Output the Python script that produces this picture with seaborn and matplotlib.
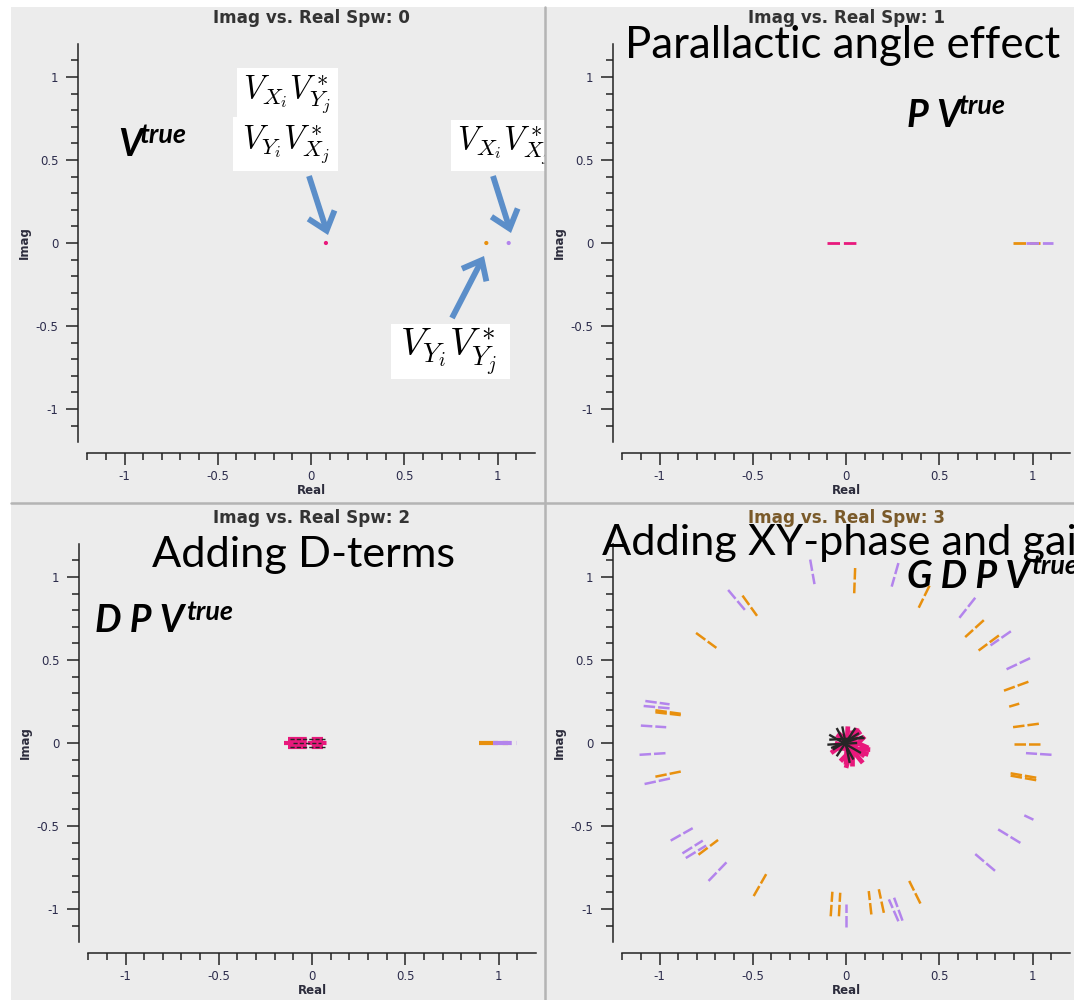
import matplotlib
matplotlib.use('Agg')
import numpy as np
import pandas as pd
import matplotlib.pyplot as plt
import seaborn as sns
from matplotlib.patches import Rectangle, FancyArrowPatch
from matplotlib.lines import Line2D
from matplotlib.ticker import FixedLocator

# ---------------- data ----------------
pal = {'XY': '#e8197c', 'YX': '#262626', 'YY': '#e8900e', 'XX': '#b384ec'}

# Spw 0 : V_true -> single visibilities
spw0_real = [0.08, 0.94, 1.06]
spw0_imag = [0.0, 0.0, 0.0]
spw0_pol = ['XY', 'YY', 'XX']

# Spw 1 : P V_true -> short tracks along the real axis
spw1_x0 = [-0.10, 0.895, 0.965]
spw1_y0 = [0.0, 0.0, 0.0]
spw1_x1 = [0.06, 1.04, 1.11]
spw1_y1 = [0.0, 0.0, 0.0]
spw1_pol = ['XY', 'YY', 'XX']

# Spw 2 : D P V_true
spw2_x0 = [-0.13, -0.13, -0.13, -0.15, 0.895, 0.97]
spw2_y0 = [-0.022, 0.0, 0.022, 0.0, 0.0, 0.0]
spw2_x1 = [0.06, 0.06, 0.06, 0.09, 1.05, 1.10]
spw2_y1 = [-0.022, 0.0, 0.022, 0.0, 0.0, 0.0]
spw2_pol = ['XY', 'XY', 'XY', 'XY', 'YY', 'XX']
spw2b_x0 = [-0.12, -0.12, -0.10]
spw2b_y0 = [0.022, -0.022, 0.0]
spw2b_x1 = [0.07, 0.07, 0.05]
spw2b_y1 = [0.022, -0.022, 0.0]
spw2b_pol = ['YX', 'YX', 'YX']

# Spw 3 : G D P V_true -> parallel hands on a ring
ring_x0 = [-0.192, 0.049, 0.281, 0.448, 0.693, 0.739, 0.820, 0.884, 0.987, 0.978,
           0.929, 1.034, 1.042, 1.102, 1.020, 1.020, 1.005, 0.935, 0.799, 0.399,
           0.303, 0.281, 0.203, 0.136, 0.000, -0.038, -0.082, -0.495, -0.737, -0.791,
           -0.877, -0.859, -0.940, -1.080, -1.022, -1.107, -1.100, -1.022, -1.022, -1.085,
           -1.076, -0.804, -0.632, -0.555]
ring_y0 = [1.105, 1.054, 1.084, 0.948, 0.875, 0.740, 0.648, 0.673, 0.511, 0.369,
           0.237, 0.116, -0.006, -0.071, -0.209, -0.224, -0.462, -0.602, -0.770, -0.967,
           -1.070, -1.074, -1.023, -1.033, -1.110, -1.044, -1.044, -0.922, -0.831, -0.673,
           -0.665, -0.693, -0.588, -0.247, -0.203, -0.071, 0.105, 0.197, 0.185, 0.223,
           0.253, 0.663, 0.922, 0.888]
ring_x1 = [-0.169, 0.044, 0.245, 0.390, 0.608, 0.639, 0.711, 0.775, 0.857, 0.844,
           0.875, 0.893, 0.902, 0.965, 0.880, 0.880, 0.956, 0.811, 0.693, 0.339,
           0.258, 0.230, 0.176, 0.122, 0.000, -0.031, -0.073, -0.428, -0.641, -0.686,
           -0.768, -0.750, -0.822, -0.940, -0.886, -0.964, -0.964, -0.886, -0.886, -0.946,
           -0.946, -0.695, -0.541, -0.477]
ring_y1 = [0.957, 0.902, 0.942, 0.815, 0.754, 0.638, 0.557, 0.588, 0.442, 0.314,
           0.219, 0.095, -0.006, -0.061, -0.182, -0.196, -0.436, -0.517, -0.669, -0.831,
           -0.932, -0.942, -0.881, -0.892, -0.969, -0.902, -0.896, -0.790, -0.719, -0.584,
           -0.588, -0.618, -0.513, -0.213, -0.172, -0.061, 0.095, 0.176, 0.168, 0.209,
           0.233, 0.573, 0.800, 0.766]
ring_pol = ['XX', 'YY', 'XX', 'YY', 'XX', 'YY', 'YY', 'XX', 'XX', 'YY',
            'YY', 'YY', 'YY', 'XX', 'YY', 'YY', 'XX', 'XX', 'XX', 'YY',
            'XX', 'XX', 'YY', 'YY', 'XX', 'YY', 'YY', 'YY', 'XX', 'YY',
            'XX', 'XX', 'XX', 'XX', 'YY', 'XX', 'XX', 'YY', 'YY', 'XX',
            'XX', 'YY', 'XX', 'YY']

# Spw 3 : cross hands scattered around the origin (pink = XY, black = YX)
star_x0 = [-0.05, 0.00, -0.07, -0.03, 0.03, -0.06, 0.09, -0.04, 0.01, -0.08,
           -0.09, -0.08, -0.05, -0.02, -0.09, 0.05, -0.10, 0.07]
star_y0 = [0.05, -0.15, -0.03, -0.11, 0.08, 0.00, -0.12, 0.05, 0.10, -0.06,
           0.02, -0.03, 0.09, 0.10, 0.05, 0.09, -0.01, 0.06]
star_x1 = [0.10, 0.06, 0.13, 0.10, 0.03, 0.12, -0.04, 0.12, 0.00, 0.08,
           0.10, 0.09, 0.04, 0.02, 0.08, -0.05, 0.06, -0.07]
star_y1 = [-0.08, 0.09, -0.04, 0.04, -0.14, -0.07, 0.06, -0.03, -0.13, 0.07,
           0.03, 0.04, -0.10, -0.12, -0.06, -0.08, 0.00, -0.04]
star_pol = ['XY'] * 10 + ['YX'] * 8

major_ticks = [-1, -0.5, 0, 0.5, 1]
major_labels = ['-1', '-0.5', '0', '0.5', '1']
x_minor = [-1.2, -1.1, -0.9, -0.8, -0.7, -0.6, -0.4, -0.3, -0.2, -0.1,
           0.1, 0.2, 0.3, 0.4, 0.6, 0.7, 0.8, 0.9, 1.1]
y_minor = [-1.1, -0.9, -0.8, -0.7, -0.6, -0.4, -0.3, -0.2, -0.1,
           0.1, 0.2, 0.3, 0.4, 0.6, 0.7, 0.8, 0.9, 1.1]
titles = ['Imag vs. Real Spw: 0', 'Imag vs. Real Spw: 1',
          'Imag vs. Real Spw: 2', 'Imag vs. Real Spw: 3']

# ---------------- figure ----------------
sns.set_style('ticks')
plt.rcParams['font.family'] = ['DejaVu Sans']
plt.rcParams['mathtext.fontset'] = 'cm'
plt.rcParams['text.color'] = 'black'

W, H = 1074, 1000
fig = plt.figure(figsize=(W / 100, H / 100), dpi=100, facecolor='white')
R = fig.canvas.get_renderer()


def fx(x):
    return x / W


def fy(y):
    return 1 - y / H


def prect(x0, y0, x1, y1, color, z):
    r = Rectangle((fx(x0), fy(y1)), (x1 - x0) / W, (y1 - y0) / H,
                  transform=fig.transFigure, facecolor=color, edgecolor='none', zorder=z)
    fig.add_artist(r)
    return r


def fit_width(t, target):
    w = t.get_window_extent(R).width
    t.set_fontsize(t.get_fontsize() * target / w)
    return t


# backgrounds
prect(11, 7, 1074, 1000, '#ececec', 0.1)
# math label that is overlapped by panel 2
prect(451, 120, 560, 171, 'white', 0.2)
t3 = fig.text(fx(457), fy(146), r'$V_{X_i}V^*_{X_j}$', ha='left', va='center',
              fontsize=20, zorder=0.3)
prect(546, 7, 1074, 502, '#ececec', 0.4)
fig.add_artist(Line2D([fx(544.5), fx(544.5)], [fy(7), fy(1000)], transform=fig.transFigure,
                      color='#b4b4b4', lw=1.8, zorder=0.5))
fig.add_artist(Line2D([fx(11), fx(1074)], [fy(503.5), fy(503.5)], transform=fig.transFigure,
                      color='#b4b4b4', lw=1.8, zorder=0.5))

# panel geometry (pixels): data-zero position, px per unit
panels = [(311, 243), (846, 243), (312, 743), (846, 743)]
SX, SY = 186.5, 166.0
axes = []
for (cx, cy) in panels:
    left = cx - 1.2 * SX
    top = cy - 1.2 * SY
    ax = fig.add_axes([fx(left), fy(top + 2.4 * SY), 2.4 * SX / W, 2.4 * SY / H])
    ax.set_zorder(1)
    axes.append(ax)


def draw_segments(ax, x0, y0, x1, y1, pol, lw, ls):
    rows = []
    for i, (a, b, c, d, p) in enumerate(zip(x0, y0, x1, y1, pol)):
        rows.append((i, p, a, b))
        rows.append((i, p, c, d))
    df = pd.DataFrame(rows, columns=['seg', 'pol', 'x', 'y'])
    sns.lineplot(data=df, x='x', y='y', hue='pol', units='seg', estimator=None, sort=False,
                 palette=pal, legend=False, ax=ax, linewidth=lw, linestyle=ls,
                 solid_capstyle='butt', dash_capstyle='butt')


dash = (0, (4.6, 1.2))
# Spw 0
sns.scatterplot(x=spw0_real, y=spw0_imag, hue=spw0_pol, palette=pal, s=9, linewidth=0,
                marker='o', legend=False, ax=axes[0])
# Spw 1
draw_segments(axes[1], spw1_x0, spw1_y0, spw1_x1, spw1_y1, spw1_pol, 2.0, (0, (4.5, 1.4)))
# Spw 2
draw_segments(axes[2], spw2_x0, spw2_y0, spw2_x1, spw2_y1, spw2_pol, 3.0, (0, (4.5, 1.2)))
draw_segments(axes[2], spw2b_x0, spw2b_y0, spw2b_x1, spw2b_y1, spw2b_pol, 1.0, (0, (3, 1.5)))
# Spw 3
draw_segments(axes[3], ring_x0, ring_y0, ring_x1, ring_y1, ring_pol, 1.8, dash)
draw_segments(axes[3], star_x0[:10], star_y0[:10], star_x1[:10], star_y1[:10], star_pol[:10], 3.4, '-')
draw_segments(axes[3], star_x0[10:], star_y0[10:], star_x1[10:], star_y1[10:], star_pol[10:], 1.7, '-')

for ax in axes:
    ax.set_facecolor('none')
    ax.set_xlim(-1.2, 1.2)
    ax.set_ylim(-1.2, 1.2)
    ax.set_xticks(major_ticks)
    ax.set_xticklabels(major_labels)
    ax.set_yticks(major_ticks)
    ax.set_yticklabels(major_labels)
    ax.xaxis.set_minor_locator(FixedLocator(x_minor))
    ax.yaxis.set_minor_locator(FixedLocator(y_minor))
    for s in ['top', 'right']:
        ax.spines[s].set_visible(False)
    ax.spines['left'].set_position(('outward', 6.8))
    ax.spines['bottom'].set_position(('outward', 7.9))
    for s in ['left', 'bottom']:
        ax.spines[s].set_linewidth(1.1)
        ax.spines[s].set_color('#222222')
    ax.tick_params(which='major', length=8.5, width=1.1, color='#222222', labelsize=8.5,
                   labelcolor='#2c2c4c')
    ax.tick_params(axis='x', which='major', pad=3.5)
    ax.tick_params(axis='y', which='major', pad=5.5)
    ax.tick_params(which='minor', length=5, width=1.1, color='#222222')
    ax.set_xlabel('Real', fontsize=8.5, fontweight='bold', color='#2c2c3c', labelpad=1)
    ax.set_ylabel('Imag', fontsize=8.5, fontweight='bold', color='#2c2c3c', labelpad=3)

# panel titles
title_pos = [(311, 18), (846, 18), (312, 518), (846, 518)]
title_col = ['#333333', '#333333', '#333333', '#7a5a2a']
tt = []
for (x, y), s, c in zip(title_pos, titles, title_col):
    t = fig.text(fx(x), fy(y), s, ha='center', va='center', fontsize=10, fontweight='bold',
                 color=c, zorder=2)
    tt.append(t)
fit_width(tt[0], 197)
for t in tt[1:]:
    t.set_fontsize(tt[0].get_fontsize())

# white label boxes with Jones-matrix products
prect(237, 68, 338, 118, 'white', 2.5)
prect(233, 117, 338, 171, 'white', 2.5)
prect(391, 324, 510, 379, 'white', 2.5)
m1 = fig.text(fx(287), fy(95), r'$V_{X_i}V^*_{Y_j}$', ha='center', va='center', fontsize=20, zorder=2.6)
m2 = fig.text(fx(286), fy(145), r'$V_{Y_i}V^*_{X_j}$', ha='center', va='center', fontsize=20, zorder=2.6)
m4 = fig.text(fx(449), fy(352), r'$V_{Y_i}V^*_{Y_j}$', ha='center', va='center', fontsize=20, zorder=2.6)
fit_width(m1, 88)
m2.set_fontsize(m1.get_fontsize())
t3.set_fontsize(m1.get_fontsize())
fit_width(m4, 98)

# arrows
arrow_kw = dict(arrowstyle='->,head_length=0.55,head_width=0.45', mutation_scale=22,
                lw=4.2, color='#5b8ec9', shrinkA=0, shrinkB=0, zorder=3,
                transform=fig.transFigure, capstyle='butt', joinstyle='miter')
for (x0, y0, x1, y1) in [(309, 176, 328, 235), (493, 176, 511, 233), (452, 318, 484, 256)]:
    fig.add_artist(FancyArrowPatch((fx(x0), fy(y0)), (fx(x1), fy(y1)), **arrow_kw))

# slide headings
h1 = fig.text(fx(625), fy(58), 'Parallactic angle effect', family='Lato', fontsize=30,
              va='baseline', ha='left', color='black', zorder=4)
h2 = fig.text(fx(152), fy(567), 'Adding D-terms', family='Lato', fontsize=30,
              va='baseline', ha='left', color='black', zorder=4)
h3 = fig.text(fx(602), fy(555), 'Adding XY-phase and gain', family='Lato', fontsize=30,
              va='baseline', ha='left', color='black', zorder=4)
fit_width(h1, 434)
fit_width(h2, 303)
h3.set_fontsize(h2.get_fontsize())

# formula labels: main symbols, then superscript "true" just after them
formulas = [('V', 118, 156, 143, -3), ('P V', 907, 127, 114, -3),
            ('D P V', 95, 632, 620, 2), ('G D P V', 907, 588, 574, 1)]
sup_size = None
for s, x, y, sy, gap in formulas:
    tm = fig.text(fx(x), fy(y), s, family='Lato', fontweight='bold', fontstyle='italic',
                  fontsize=27, va='baseline', ha='left', color='black', zorder=4)
    right = tm.get_window_extent(R).x1
    t = fig.text((right + gap) / W, fy(sy), 'true', family='Lato', fontweight='bold',
                 fontstyle='italic', fontsize=16, va='baseline', ha='left', color='black',
                 zorder=4)
    if sup_size is None:
        fit_width(t, 47)
        sup_size = t.get_fontsize()
    else:
        t.set_fontsize(sup_size)

fig.savefig('out.png', dpi=100, facecolor='white')
